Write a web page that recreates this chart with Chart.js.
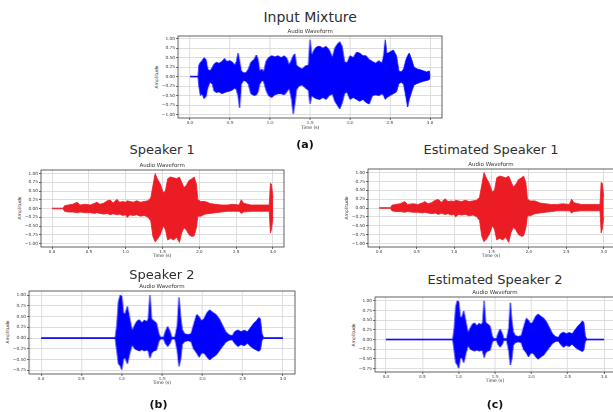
<!DOCTYPE html>
<html>
<head>
<meta charset="utf-8">
<script src="https://cdn.jsdelivr.net/npm/chart.js@4.4.1/dist/chart.umd.min.js"></script>
<style>
  html, body { margin: 0; padding: 0; background: #fff; }
  body { width: 613px; height: 412px; position: relative; overflow: hidden; font-family: "DejaVu Sans", sans-serif; }
  canvas { position: absolute; }
  .txt { position: absolute; white-space: nowrap; transform: translate(-50%, -50%); line-height: 1; }
  .head { font-size: 13px; color: #2e2e2e; }
  .big { font-size: 14px; }
  .lab { font-size: 11px; font-weight: bold; color: #111; }
  .small { font-size: 5.5px; color: #333; }
  .axt { font-size: 4.5px; color: #333; }
  .rot { transform: translate(-50%, -50%) rotate(-90deg); }
</style>
</head>
<body>
<script>
// ---------------- DATA ----------------
const xTickLabels = [0, 0.5, 1.0, 1.5, 2.0, 2.5, 3.0];
const yTickLabelsFull = [-1.0, -0.75, -0.5, -0.25, 0, 0.25, 0.5, 0.75, 1.0];
const yTickLabelsS2 = [-0.75, -0.5, -0.25, 0, 0.25, 0.5, 0.75, 1.0];

// Input mixture: time (s), upper and lower envelope of the waveform
const mixTime = [0.00,0.10,0.11,0.13,0.15,0.175,0.20,0.22,0.25,0.28,0.30,0.33,0.36,0.40,0.43,0.46,0.50,0.53,0.56,0.58,0.60,0.62,0.64,0.67,0.70,0.73,0.76,0.80,0.83,0.85,0.87,0.90,0.92,0.95,0.98,1.02,1.06,1.10,1.14,1.18,1.21,1.24,1.27,1.29,1.31,1.33,1.36,1.40,1.44,1.48,1.50,1.52,1.55,1.58,1.62,1.66,1.70,1.74,1.78,1.81,1.84,1.87,1.90,1.93,1.96,2.00,2.04,2.08,2.12,2.16,2.20,2.24,2.28,2.32,2.36,2.40,2.42,2.44,2.46,2.50,2.54,2.58,2.61,2.64,2.67,2.70,2.72,2.74,2.77,2.80,2.84,2.88,2.92,2.96,2.99,3.00];
const mixUpper = [0.01,0.01,0.30,0.38,0.42,0.50,0.45,0.20,0.15,0.25,0.33,0.38,0.35,0.40,0.48,0.40,0.42,0.38,0.30,0.40,0.62,0.40,0.15,0.10,0.10,0.20,0.38,0.45,0.57,0.45,0.15,0.20,0.10,0.40,0.50,0.55,0.52,0.55,0.50,0.55,0.48,0.30,0.45,0.55,0.60,0.30,0.25,0.20,0.28,0.30,0.97,0.55,0.70,0.78,0.80,0.75,0.80,0.70,0.50,0.75,0.85,0.92,0.80,0.40,0.35,0.55,0.50,0.64,0.62,0.55,0.55,0.45,0.40,0.35,0.42,0.35,0.55,0.97,0.60,0.65,0.70,0.55,0.15,0.12,0.20,0.45,0.55,0.62,0.45,0.25,0.20,0.18,0.15,0.12,0.15,0.02];
const mixLower = [-0.01,-0.01,-0.25,-0.50,-0.45,-0.58,-0.52,-0.30,-0.14,-0.20,-0.38,-0.42,-0.40,-0.45,-0.42,-0.40,-0.38,-0.35,-0.30,-0.35,-0.50,-0.82,-0.20,-0.10,-0.12,-0.20,-0.45,-0.50,-0.48,-0.40,-0.20,-0.10,-0.12,-0.35,-0.50,-0.55,-0.48,-0.45,-0.45,-0.48,-0.40,-0.30,-0.60,-0.98,-0.70,-0.35,-0.25,-0.22,-0.30,-0.36,-0.72,-0.50,-0.55,-0.58,-0.60,-0.55,-0.60,-0.50,-0.45,-0.65,-0.75,-0.85,-0.70,-0.45,-0.40,-0.60,-0.55,-0.60,-0.65,-0.60,-0.68,-0.72,-0.50,-0.48,-0.50,-0.45,-0.50,-0.60,-0.55,-0.50,-0.45,-0.40,-0.18,-0.15,-0.20,-0.55,-0.80,-0.60,-0.40,-0.22,-0.18,-0.15,-0.12,-0.10,-0.08,-0.02];

// Speaker 1 (also the estimated speaker 1, which is visually identical)
const spk1Time = [0.00,0.15,0.17,0.22,0.28,0.34,0.38,0.45,0.52,0.58,0.61,0.65,0.70,0.75,0.79,0.83,0.88,0.92,0.96,1.00,1.02,1.06,1.10,1.15,1.20,1.25,1.30,1.34,1.37,1.40,1.43,1.47,1.51,1.54,1.57,1.61,1.65,1.69,1.73,1.76,1.79,1.82,1.86,1.90,1.93,1.96,1.98,2.02,2.08,2.15,2.22,2.30,2.38,2.45,2.54,2.57,2.60,2.70,2.80,2.90,2.95,2.965,2.98,3.00];
const spk1Upper = [0.01,0.01,0.08,0.10,0.12,0.18,0.10,0.12,0.10,0.15,0.18,0.12,0.15,0.22,0.24,0.16,0.26,0.18,0.20,0.18,0.22,0.20,0.18,0.22,0.18,0.20,0.22,0.30,0.65,1.00,0.85,0.70,0.45,0.50,0.85,0.90,0.88,0.85,0.90,0.75,0.60,0.65,0.80,0.85,0.90,0.70,0.25,0.20,0.20,0.14,0.12,0.10,0.10,0.12,0.10,0.25,0.15,0.10,0.10,0.10,0.10,0.72,0.70,0.30];
const spk1Lower = [-0.01,-0.01,-0.08,-0.10,-0.10,-0.12,-0.10,-0.12,-0.12,-0.14,-0.12,-0.14,-0.16,-0.14,-0.18,-0.15,-0.18,-0.16,-0.20,-0.18,-0.25,-0.18,-0.20,-0.18,-0.22,-0.20,-0.24,-0.35,-0.80,-0.95,-0.88,-0.75,-0.50,-0.60,-0.90,-0.85,-0.90,-0.82,-0.97,-0.70,-0.55,-0.60,-0.75,-0.80,-0.78,-0.55,-0.22,-0.22,-0.16,-0.14,-0.12,-0.10,-0.08,-0.08,-0.08,-0.14,-0.10,-0.08,-0.08,-0.08,-0.08,-0.70,-0.60,-0.25];

// Speaker 2 (also the estimated speaker 2, which is visually identical)
const spk2Time = [0.00,0.92,0.94,0.96,0.98,1.00,1.02,1.04,1.07,1.10,1.13,1.16,1.19,1.22,1.25,1.28,1.31,1.33,1.35,1.37,1.40,1.43,1.46,1.48,1.52,1.54,1.57,1.60,1.62,1.66,1.69,1.71,1.73,1.75,1.78,1.82,1.86,1.89,1.93,1.96,1.99,2.02,2.06,2.09,2.13,2.17,2.21,2.25,2.29,2.33,2.37,2.40,2.44,2.48,2.52,2.56,2.60,2.64,2.67,2.70,2.72,2.74,2.76,3.00];
const spk2Upper = [0.01,0.01,0.30,0.85,1.00,0.98,0.60,0.55,0.74,0.45,0.16,0.30,0.40,0.43,0.35,0.42,0.38,0.45,1.00,0.45,0.40,0.35,0.10,0.02,0.02,0.15,0.27,0.15,0.02,0.02,0.30,0.95,0.50,0.20,0.10,0.08,0.10,0.30,0.55,0.50,0.40,0.45,0.60,0.66,0.60,0.55,0.45,0.30,0.15,0.08,0.05,0.15,0.19,0.15,0.18,0.15,0.25,0.35,0.40,0.48,0.45,0.10,0.01,0.01];
const spk2Lower = [-0.01,-0.01,-0.30,-0.60,-0.65,-0.74,-0.50,-0.45,-0.60,-0.35,-0.15,-0.25,-0.28,-0.30,-0.27,-0.30,-0.28,-0.30,-0.47,-0.35,-0.30,-0.28,-0.08,-0.02,-0.02,-0.12,-0.20,-0.12,-0.02,-0.02,-0.30,-0.66,-0.50,-0.15,-0.08,-0.06,-0.08,-0.25,-0.35,-0.45,-0.35,-0.35,-0.45,-0.51,-0.45,-0.40,-0.30,-0.20,-0.10,-0.05,-0.04,-0.12,-0.20,-0.15,-0.18,-0.12,-0.20,-0.25,-0.28,-0.31,-0.28,-0.05,-0.01,-0.01];

// ---------------- LAYOUT / STYLE ----------------
const BLUE = '#0000ff';
const RED = '#ec1c24';
const PAD_L = 18, PAD_T = 5, PAD_R = 3, PAD_B = 10;

const panels = [
  { time: mixTime, up: mixUpper, lo: mixLower, color: BLUE, yTicks: yTickLabelsFull, yMin: -1.09, yMax: 1.07,
    box: { l: 178.3, t: 35.6, r: 442.0, b: 117.7 }, head: 'Input Mixture', headCls: 'head big', headY: 17, timeOff: 10 },
  { time: spk1Time, up: spk1Upper, lo: spk1Lower, color: RED, yTicks: yTickLabelsFull, yMin: -1.1, yMax: 1.1,
    box: { l: 40.6, t: 169.8, r: 283.7, b: 246.8 }, head: 'Speaker 1', headCls: 'head', headY: 149, timeOff: 9.5 },
  { time: spk1Time, up: spk1Upper, lo: spk1Lower, color: RED, yTicks: yTickLabelsFull, yMin: -1.1, yMax: 1.1,
    box: { l: 367.5, t: 168.8, r: 614.5, b: 246.9 }, head: 'Estimated Speaker 1', headCls: 'head', headY: 148.5, timeOff: 9.5 },
  { time: spk2Time, up: spk2Upper, lo: spk2Lower, color: BLUE, yTicks: yTickLabelsS2, yMin: -0.84, yMax: 1.1,
    box: { l: 28.9, t: 290.8, r: 294.8, b: 373.9 }, head: 'Speaker 2', headCls: 'head', headY: 274, timeOff: 9.3 },
  { time: spk2Time, up: spk2Upper, lo: spk2Lower, color: BLUE, yTicks: yTickLabelsS2, yMin: -0.84, yMax: 1.1,
    box: { l: 375.1, t: 296.8, r: 614.9, b: 372.5 }, head: 'Estimated Speaker 2', headCls: 'head', headY: 279, timeOff: 8.5 },
];

function addText(text, cls, x, y) {
  const d = document.createElement('div');
  d.className = 'txt ' + cls;
  d.textContent = text;
  d.style.left = x + 'px';
  d.style.top = y + 'px';
  document.body.appendChild(d);
}

const boxPlugin = {
  id: 'axesBox',
  afterDatasetsDraw(chart) {
    const a = chart.chartArea, ctx = chart.ctx;
    ctx.save();
    ctx.strokeStyle = '#3a3a3a';
    ctx.lineWidth = 0.8;
    ctx.strokeRect(a.left, a.top, a.right - a.left, a.bottom - a.top);
    ctx.restore();
  }
};

const minus = v => v.replace('-', '\u2212');

panels.forEach(p => {
  const b = p.box;
  const w = b.r - b.l, h = b.b - b.t;
  const cv = document.createElement('canvas');
  const cw = w + PAD_L + PAD_R, ch = h + PAD_T + PAD_B;
  cv.width = cw; cv.height = ch;
  cv.style.width = cw + 'px'; cv.style.height = ch + 'px';
  cv.style.left = (b.l - PAD_L) + 'px';
  cv.style.top = (b.t - PAD_T) + 'px';
  document.body.appendChild(cv);

  const upperPts = p.time.map((t, i) => ({ x: t, y: p.up[i] }));
  const lowerPts = p.time.map((t, i) => ({ x: t, y: p.lo[i] }));

  new Chart(cv, {
    type: 'line',
    data: {
      datasets: [
        { data: upperPts, borderColor: p.color, backgroundColor: p.color, borderWidth: 0.8, pointRadius: 0, tension: 0, fill: '+1' },
        { data: lowerPts, borderColor: p.color, backgroundColor: p.color, borderWidth: 0.8, pointRadius: 0, tension: 0, fill: false }
      ]
    },
    options: {
      responsive: false,
      animation: false,
      devicePixelRatio: 1,
      layout: { padding: { left: 0, top: PAD_T, right: PAD_R, bottom: 0 } },
      plugins: { legend: { display: false }, tooltip: { enabled: false }, title: { display: false } },
      scales: {
        x: {
          type: 'linear', min: -0.15, max: 3.15,
          afterBuildTicks: s => { s.ticks = xTickLabels.map(v => ({ value: v })); },
          afterFit: s => { s.height = PAD_B; s.paddingLeft = 0; s.paddingRight = 0; },
          ticks: { font: { size: 4, family: 'DejaVu Sans' }, color: '#333', padding: 0.5, maxRotation: 0,
                   callback: v => minus(Number(v).toFixed(1)) },
          grid: { color: '#d6d6d6', lineWidth: 0.8, tickColor: '#444', tickLength: 2, drawTicks: true },
          border: { display: false }
        },
        y: {
          type: 'linear', min: p.yMin, max: p.yMax,
          afterBuildTicks: s => { s.ticks = p.yTicks.map(v => ({ value: v })); },
          afterFit: s => { s.width = PAD_L; s.paddingTop = 0; s.paddingBottom = 0; },
          ticks: { font: { size: 4.3, family: 'DejaVu Sans' }, color: '#333', padding: 1,
                   callback: v => minus(Number(v).toFixed(2)) },
          grid: { color: '#d6d6d6', lineWidth: 0.8, tickColor: '#444', tickLength: 2, drawTicks: true },
          border: { display: false }
        }
      }
    },
    plugins: [boxPlugin]
  });

  const cx = (b.l + b.r) / 2;
  addText(p.head, p.headCls, cx, p.headY);
  addText('Audio Waveform', 'small', cx, b.t - 3.5);
  addText('Time (s)', 'axt', cx, b.b + p.timeOff);
  addText('Amplitude', 'axt rot', b.l - 21, (b.t + b.b) / 2);
});

addText('(a)', 'lab', 305, 144);
addText('(b)', 'lab', 158.5, 404);
addText('(c)', 'lab', 495, 404);
</script>
</body>
</html>
